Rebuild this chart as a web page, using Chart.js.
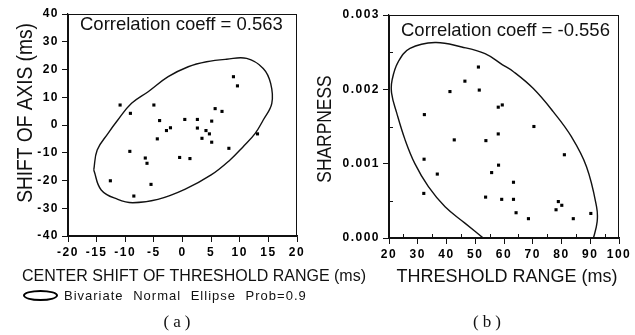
<!DOCTYPE html>
<html>
<head>
<meta charset="utf-8">
<script src="https://cdn.jsdelivr.net/npm/chart.js@4.4.1/dist/chart.umd.min.js"></script>
<style>
    body { margin: 0; background: #fff; width: 635px; height: 335px; overflow: hidden; position: relative; font-family: "Liberation Sans", Arial, sans-serif; color: #111; }
    canvas { position: absolute; left: 0; top: 0; }
    #key { position: absolute; left: 23px; top: 288px; font-size: 13px; letter-spacing: 1px; word-spacing: 5px; display: flex; align-items: center; white-space: nowrap; }
    .ring { display: inline-block; width: 31px; height: 7px; border: 2px solid #000; border-radius: 50%; margin-right: 6px; }
    .cap { position: absolute; top: 312px; width: 60px; text-align: center; font: 17px "Liberation Serif", serif; letter-spacing: 4px; }
</style>
</head>
<body>
<canvas id="chartA" width="635" height="335"></canvas>
<canvas id="chartB" width="635" height="335"></canvas>
<div id="key"><span class="ring"></span><span>Bivariate Normal Ellipse Prob=0.9</span></div>
<div class="cap" style="left:149px">(a)</div>
<div class="cap" style="left:459px">(b)</div>

<script>
"use strict";

// (a) center shift of threshold range vs shift of axis (ms)
const centerShift = [-10.9, -9.1, -5.0, -4.0, 0.4, -2.1, -2.8, -4.4, -9.2, -6.5, -6.2, -0.5, 1.3, 2.6, 5.1,
    2.6, 4.1, 4.7, 3.4, 5.1, 5.7, 6.9, 8.1, 8.9, 9.6, 13.1, -12.6, -5.5, -8.5];
const axisShift = [7.2, 4.2, 7.2, 1.6, 2.0, -1.0, -2.0, -5.0, -9.5, -11.9, -13.8, -11.7, -12.1, 2.0, 1.4,
    -1.1, -2.0, -3.2, -4.8, -6.2, 5.9, 4.9, -8.4, 17.4, 14.1, -3.2, -20.1, -21.4, -25.6];

// outline of the 0.9 ellipse in (a)
const ellipseAX = [-15.5, -14.9, -13.0, -11.3, -8.9, -6.0, -2.5, 1.0, 4.2, 7.7, 11.2, 14.1, 15.4,
    15.6, 14.1, 12.7, 10.6, 8.3, 5.0, 0.4, -4.3, -8.7, -11.3, -14.2, -15.5];
const ellipseAY = [-16.2, -9.0, -3.0, 1.8, 7.8, 12.0, 17.4, 21.0, 22.8, 23.7, 24.0, 20.4, 15.0,
    7.8, 1.8, -3.0, -7.8, -12.6, -18.0, -23.2, -26.8, -28.0, -26.8, -23.4, -16.2];

// (b) threshold range (ms) vs sharpness
const thresholdRange = [51.1, 46.4, 41.2, 51.4, 58.0, 59.4, 32.3, 70.4, 42.7, 53.7, 58.0, 81.0, 32.2, 58.1,
    55.7, 36.8, 63.3, 32.1, 53.6, 59.2, 63.3, 64.2, 68.5, 78.9, 80.1, 78.1, 84.1, 90.2];
const sharpness = [0.00230, 0.00211, 0.00197, 0.00199, 0.00176, 0.00179, 0.00166, 0.00150, 0.00132, 0.00131,
    0.00140, 0.00112, 0.00106, 0.00098, 0.00088, 0.00086, 0.00075, 0.00060, 0.00055, 0.00052, 0.00052,
    0.00034, 0.00026, 0.00049, 0.00044, 0.00038, 0.00026, 0.00033];

// ellipse in (b), cut by the bottom axis
const ellipseBX = [53.4, 46.4, 39.5, 33.7, 29.0, 25.6, 22.7, 20.9, 21.1, 23.2, 27.3, 36.0, 45.3, 53.4,
    59.5, 63.2, 70.2, 77.1, 83.5, 88.7, 92.2, 92.4, 91.0];
const ellipseBY = [-0.00002, 0.00020, 0.00042, 0.00069, 0.00100, 0.00132, 0.00168, 0.00195, 0.00213,
    0.00237, 0.00255, 0.00263, 0.00257, 0.00248, 0.00233, 0.00224, 0.00201, 0.00170, 0.00136, 0.00096,
    0.00042, 0.00022, -0.00002];

// tick labels
const ticksAX = [-20, -15, -10, -5, 0, 5, 10, 15, 20];
const ticksAY = [-40, -30, -20, -10, 0, 10, 20, 30, 40];
const ticksBX = [20, 30, 40, 50, 60, 70, 80, 90, 100];
const ticksBY = [0, 0.001, 0.002, 0.003];
const minorBX = [25, 35, 45, 55, 65, 75, 85, 95];
const minorBY = [0.0005, 0.0015, 0.0025];

const INK = "#111";
const FONT = '"Liberation Sans", Arial, sans-serif';

function toPoints(xs, ys) {
    return xs.map((x, i) => ({ x: x, y: ys[i] }));
}

// text helper, sx squeezes along the text direction
function drawLabel(ctx, text, x, y, size, rot, sx, align) {
    ctx.save();
    ctx.translate(x, y);
    ctx.rotate(rot);
    ctx.scale(sx, 1);
    ctx.font = size + "px " + FONT;
    ctx.fillStyle = INK;
    ctx.textAlign = align || "center";
    ctx.textBaseline = "alphabetic";
    ctx.fillText(text, 0, 0);
    ctx.restore();
}

// box around the plot, minor ticks, titles and the correlation note
const framePlugin = {
    id: "frame",
    beforeDraw(chart) {
        chart.ctx.letterSpacing = "1.5px";
    },
    beforeDatasetsDraw(chart) {
        chart.ctx.letterSpacing = "0px";
    },
    afterDraw(chart, args, opts) {
        const ctx = chart.ctx;
        const a = chart.chartArea;
        ctx.save();
        ctx.strokeStyle = INK;
        ctx.lineWidth = 1;
        ctx.strokeRect(a.left + 0.5, a.top + 0.5, a.right - a.left - 1, a.bottom - a.top);

        ctx.beginPath();
        (opts.minorX || []).forEach(v => {
            const px = Math.round(chart.scales.x.getPixelForValue(v)) + 0.5;
            ctx.moveTo(px, a.bottom);
            ctx.lineTo(px, a.bottom - 4);
        });
        (opts.minorY || []).forEach(v => {
            const py = Math.round(chart.scales.y.getPixelForValue(v)) + 0.5;
            ctx.moveTo(a.left, py);
            ctx.lineTo(a.left + 4, py);
        });
        ctx.stroke();
        ctx.restore();

        drawLabel(ctx, opts.corr, opts.corrX, opts.corrY, 18.5, 0, 1, "left");
        drawLabel(ctx, opts.xTitle, opts.xTitleX, opts.xTitleY, opts.xTitleSize, 0, 1);
        drawLabel(ctx, opts.yTitle, opts.yTitleX, opts.yTitleY, opts.yTitleSize, -Math.PI / 2, opts.yTitleSx);
    }
};

function axis(min, max, ticks, size, fmt) {
    return {
        type: "linear",
        min: min,
        max: max,
        afterBuildTicks: s => { s.ticks = ticks.map(v => ({ value: v })); },
        afterFit: s => {
            if (s.isHorizontal()) { s.height = size; } else { s.width = size; }
        },
        grid: { drawOnChartArea: false, tickLength: 6, color: INK, tickColor: INK },
        border: { color: INK, width: 1.2 },
        ticks: {
            color: "#000",
            padding: 3,
            autoSkip: false,
            maxRotation: 0,
            font: { family: FONT, size: 12, weight: "bold" },
            callback: fmt || (v => v)
        }
    };
}

function scatterChart(id, xs, ys, ex, ey, padding, scales, frame) {
    return new Chart(document.getElementById(id), {
        type: "scatter",
        data: {
            datasets: [{
                data: toPoints(xs, ys),
                pointStyle: "rect",
                pointRadius: 2.2,
                borderWidth: 0,
                backgroundColor: "#000"
            }, {
                data: toPoints(ex, ey),
                showLine: true,
                tension: 0.4,
                pointRadius: 0,
                borderColor: INK,
                borderWidth: 1.4,
                fill: false
            }]
        },
        options: {
            responsive: false,
            animation: false,
            events: [],
            layout: { padding: padding },
            scales: scales,
            plugins: {
                legend: { display: false },
                tooltip: { enabled: false },
                frame: frame
            }
        },
        plugins: [framePlugin]
    });
}

scatterChart("chartA", centerShift, axisShift, ellipseAX, ellipseAY,
    { left: 0, top: 14, right: 338, bottom: 0 },
    { x: axis(-20, 20, ticksAX, 99), y: axis(-40, 40, ticksAY, 68) },
    {
        corr: "Correlation coeff = 0.563", corrX: 80, corrY: 30,
        xTitle: "CENTER SHIFT OF THRESHOLD RANGE (ms)", xTitleX: 194, xTitleY: 281, xTitleSize: 16,
        yTitle: "SHIFT OF AXIS (ms)", yTitleX: 32, yTitleY: 113, yTitleSize: 22, yTitleSx: 0.87
    });

scatterChart("chartB", thresholdRange, sharpness, ellipseBX, ellipseBY,
    { left: 0, top: 15, right: 16, bottom: 0 },
    { x: axis(20, 100, ticksBX, 97), y: axis(0, 0.003, ticksBY, 389, v => v.toFixed(3)) },
    {
        corr: "Correlation coeff = -0.556", corrX: 401, corrY: 36,
        xTitle: "THRESHOLD RANGE (ms)", xTitleX: 507, xTitleY: 282, xTitleSize: 18,
        yTitle: "SHARPNESS", yTitleX: 331, yTitleY: 129, yTitleSize: 20, yTitleSx: 0.87,
        minorX: minorBX, minorY: minorBY
    });
</script>
</body>
</html>
